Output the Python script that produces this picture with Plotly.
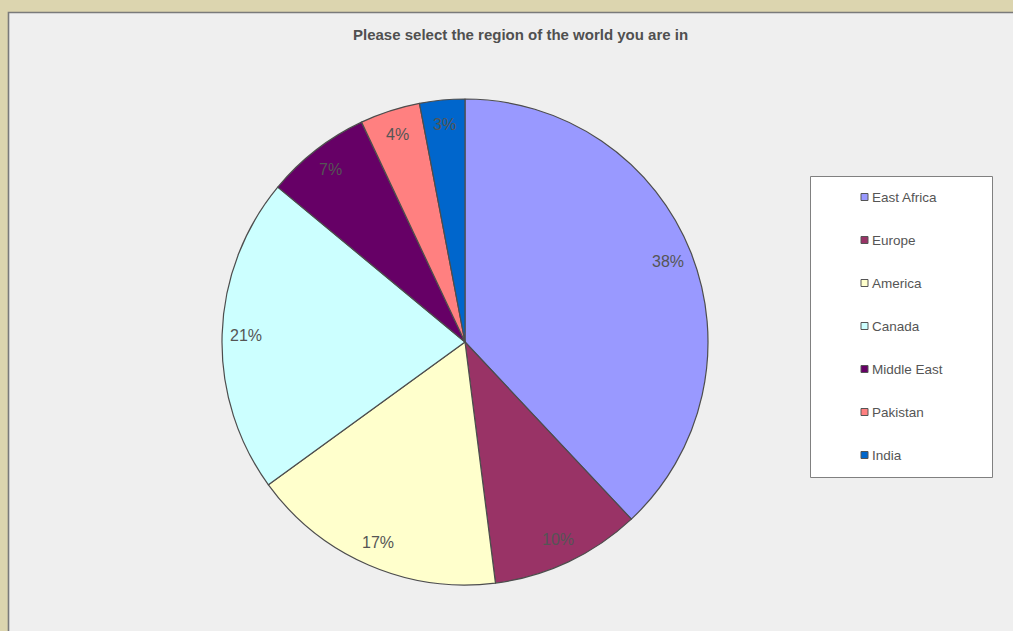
import numpy as np
import plotly.graph_objects as go

# Survey answers: share of respondents per region (%)
regions = ["East Africa", "Europe", "America", "Canada", "Middle East", "Pakistan", "India"]
shares = [38, 10, 17, 21, 7, 4, 3]
colors = ["#9999FF", "#993366", "#FFFFCC", "#CCFFFF", "#660066", "#FF8080", "#0066CC"]
title = "Please select the region of the world you are in"

W, H = 1013, 631
BG = "#DCD5AF"
PANEL = "#EFEFEF"
TEXT = "#555555"
FONT = "Liberation Sans, Arial, sans-serif"

# pie geometry in pixels
cx, cy, R = 465, 342, 243


def px(x):
    return x / W


def py(y):
    return 1 - y / H


fig = go.Figure()

fig.add_trace(go.Pie(
    labels=regions,
    values=shares,
    sort=False,
    direction="clockwise",
    rotation=0,
    marker=dict(colors=colors, line=dict(color="#4D4D4D", width=1.2)),
    textinfo="none",
    hoverinfo="label+percent",
    showlegend=False,
    domain=dict(x=[px(cx - R), px(cx + R)], y=[py(cy + R), py(cy - R)]),
))

annotations = []

# percentage labels placed at the middle angle of each slice
vals = np.array(shares, dtype=float)
frac = vals / vals.sum()
ends = np.cumsum(frac) * 2 * np.pi
mids = ends - frac * np.pi
r_lab = 0.9 * R
for f, a in zip(frac, mids):
    lx = cx + r_lab * np.sin(a)
    ly = cy - r_lab * np.cos(a)
    annotations.append(dict(
        x=px(lx), y=py(ly), xref="paper", yref="paper",
        text=f"{round(f * 100)}%", showarrow=False,
        font=dict(family=FONT, size=16, color=TEXT),
        xanchor="center", yanchor="middle",
    ))

# title
annotations.append(dict(
    x=px(520), y=py(35), xref="paper", yref="paper", text=f"<b>{title}</b>",
    showarrow=False, xanchor="center", yanchor="middle",
    font=dict(family=FONT, size=15, color="#505050"),
))

shapes = [
    # chart panel
    dict(type="rect", xref="paper", yref="paper",
         x0=px(8.5), x1=px(1030), y0=py(660), y1=py(12.5),
         fillcolor=PANEL, line=dict(color="#7A7A7A", width=1.6), layer="below"),
    # legend box
    dict(type="rect", xref="paper", yref="paper",
         x0=px(810.5), x1=px(992.5), y0=py(477.5), y1=py(176.5),
         fillcolor="#FFFFFF", line=dict(color="#808080", width=1), layer="below"),
]

# legend entries
leg_top, leg_step = 197, 43
for i, (name, col) in enumerate(zip(regions, colors)):
    yc = leg_top + i * leg_step
    shapes.append(dict(
        type="rect", xref="paper", yref="paper",
        x0=px(861), x1=px(868), y0=py(yc + 3.5), y1=py(yc - 3.5),
        fillcolor=col, line=dict(color="#555555", width=1),
    ))
    annotations.append(dict(
        x=px(870), y=py(yc), xref="paper", yref="paper", text=name,
        showarrow=False, xanchor="left", yanchor="middle",
        font=dict(family=FONT, size=13.5, color=TEXT),
    ))

fig.update_layout(
    width=W, height=H,
    margin=dict(l=0, r=0, t=0, b=0),
    paper_bgcolor=BG,
    plot_bgcolor=BG,
    shapes=shapes,
    annotations=annotations,
    showlegend=False,
)

fig.write_html("out.html")
